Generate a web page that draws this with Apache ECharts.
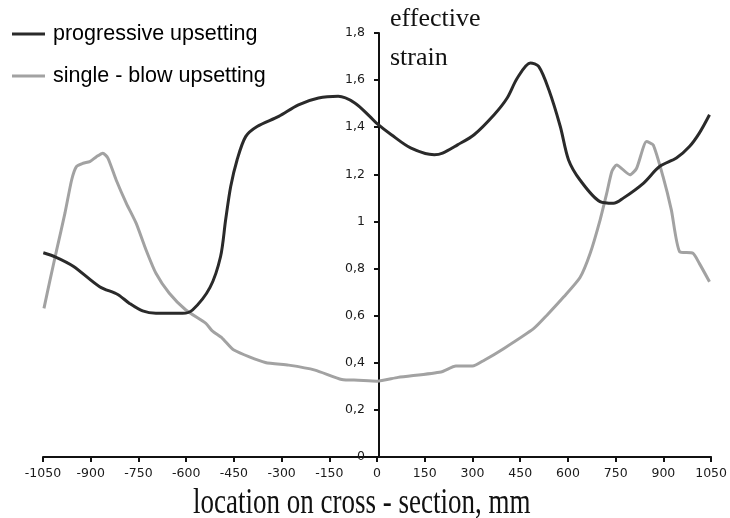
<!DOCTYPE html>
<html><head><meta charset="utf-8">
<script src="https://cdn.jsdelivr.net/npm/echarts@6/dist/echarts.min.js"></script>
<style>html,body{margin:0;padding:0;background:#fff}#c{width:730px;height:518px}</style>
</head><body><div id="c"></div>
<script>
const seriesNames = ['progressive upsetting', 'single - blow upsetting'];
const progX = [-1049,-1012,-955,-872,-815,-778,-737,-695,-611,-580,-525,-492,-476,-460,-440,-413,-377,-309,-247,-184,-122,-70,-23,0,45,107,180,206,253,305,368,409,441,482,508,540,576,602,638,701,743,774,837,888,941,982,1013,1045];
const progY = [0.867,0.85,0.81,0.723,0.69,0.652,0.62,0.61,0.61,0.624,0.72,0.85,1.006,1.148,1.261,1.36,1.403,1.446,1.495,1.524,1.531,1.503,1.446,1.415,1.368,1.311,1.283,1.29,1.325,1.368,1.453,1.524,1.609,1.673,1.658,1.559,1.403,1.261,1.176,1.084,1.077,1.099,1.162,1.233,1.269,1.318,1.375,1.453];
const singleX = [-1047,-1028,-1007,-981,-960,-945,-924,-903,-882,-862,-846,-820,-788,-757,-726,-695,-653,-601,-538,-518,-487,-450,-351,-278,-195,-111,-59,0,66,201,248,300,337,399,493,534,587,638,670,701,722,738,753,795,816,847,868,899,925,951,993,1013,1045];
const singleY = [0.631,0.751,0.879,1.035,1.176,1.233,1.247,1.254,1.275,1.29,1.269,1.176,1.077,0.992,0.879,0.78,0.695,0.624,0.567,0.535,0.505,0.454,0.401,0.39,0.369,0.329,0.326,0.322,0.338,0.361,0.386,0.386,0.411,0.461,0.546,0.602,0.68,0.762,0.865,1.006,1.12,1.212,1.24,1.198,1.226,1.339,1.325,1.19,1.049,0.872,0.865,0.822,0.744];
const xAxisName = 'location on cross - section, mm';
const yAxisName = 'effective\nstrain';

const chart = echarts.init(document.getElementById('c'), null, {renderer: 'canvas'});
const zip = (xs, ys) => xs.map((x, i) => [x, ys[i]]);
const fmtY = v => String(Math.round(v * 10) / 10).replace('.', ',');
chart.setOption({
  animation: false,
  backgroundColor: '#fff',
  title: {
    text: yAxisName, left: 385, top: -5,
    textStyle: {fontFamily: '"Liberation Serif", serif', fontSize: 26, fontWeight: 'normal', color: '#111', lineHeight: 39}
  },
  graphic: [{
    type: 'text', left: 193, top: 486, scaleY: 1.3,
    style: {text: xAxisName, font: '27px "Liberation Serif", serif', fill: '#111'}
  }],
  legend: {
    orient: 'vertical', left: 7, top: 17, itemGap: 18, itemWidth: 33, itemHeight: 3,
    icon: 'rect',
    textStyle: {fontFamily: '"Liberation Sans", Arial, sans-serif', fontSize: 21.5, color: '#000', lineHeight: 24, padding: [0, 0, 0, 3]},
    data: seriesNames
  },
  grid: {left: 43, right: 15, top: 33, bottom: 61, containLabel: false},
  xAxis: {
    type: 'value', min: -1050, max: 1050, interval: 150,
    axisLine: {onZero: false, lineStyle: {color: '#111', width: 2}},
    axisTick: {show: true, length: 5, lineStyle: {color: '#111', width: 2}},
    axisLabel: {margin: 10, formatter: v => String(v), fontFamily: '"DejaVu Sans", Verdana, sans-serif', fontSize: 12.5, color: '#1a1a1a'},
    splitLine: {show: false}
  },
  yAxis: {
    type: 'value', min: 0, max: 1.8, interval: 0.2, position: 'left', offset: -336,
    axisLine: {show: true, onZero: false, lineStyle: {color: '#111', width: 2}},
    axisTick: {show: true, length: 5, lineStyle: {color: '#111', width: 2}},
    axisLabel: {margin: 14, formatter: fmtY, fontFamily: '"DejaVu Sans", Verdana, sans-serif', fontSize: 12.5, color: '#1a1a1a'},
    splitLine: {show: false}
  },
  series: [
    {name: seriesNames[0], type: 'line', data: zip(progX, progY), smooth: 0.3, showSymbol: false, symbol: 'none',
     lineStyle: {color: '#2a2a2a', width: 3}, itemStyle: {color: '#2a2a2a'}, z: 3},
    {name: seriesNames[1], type: 'line', data: zip(singleX, singleY), smooth: 0.2, showSymbol: false, symbol: 'none',
     lineStyle: {color: '#a2a2a2', width: 3}, itemStyle: {color: '#a2a2a2'}, z: 2}
  ]
});
</script></body></html>
